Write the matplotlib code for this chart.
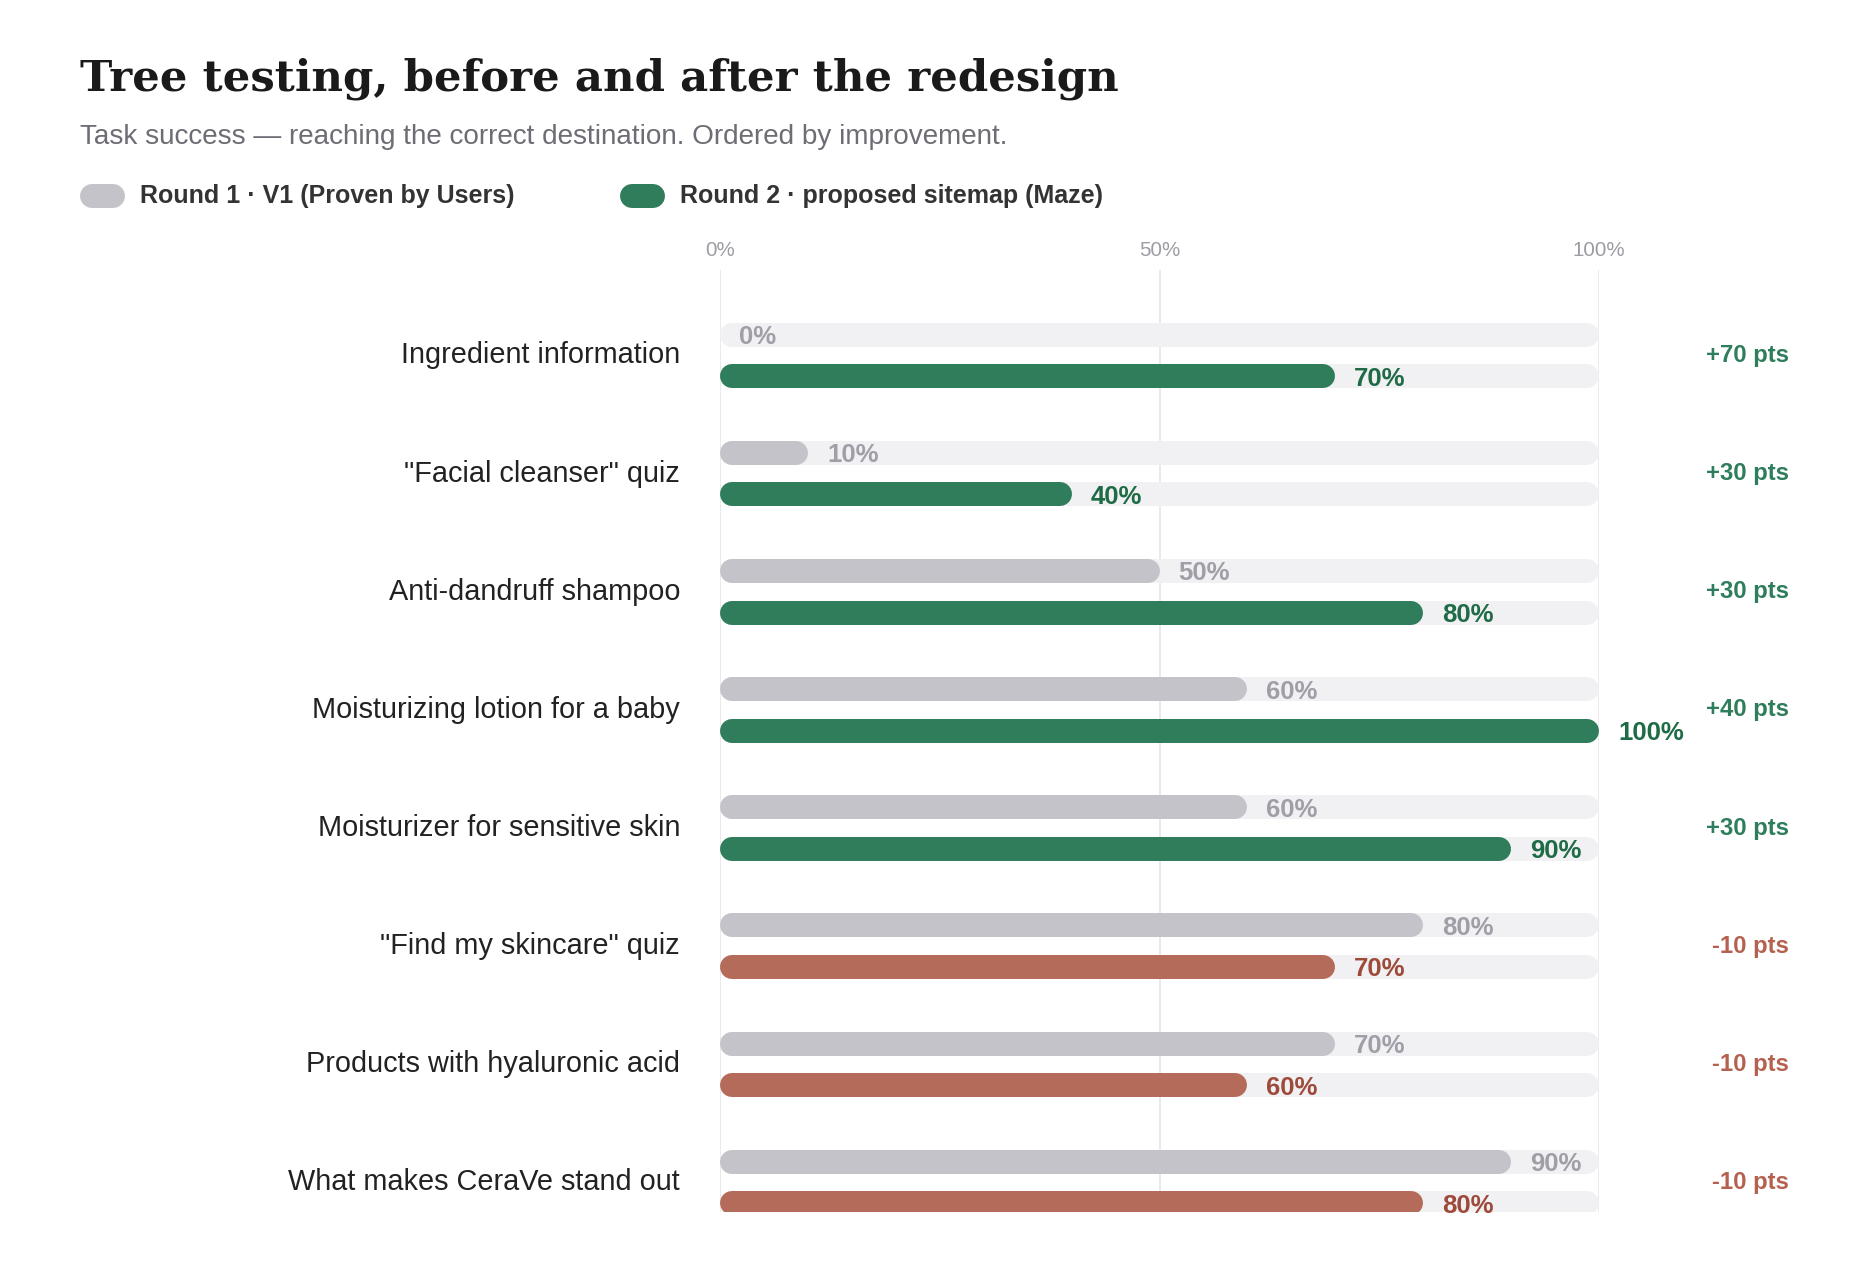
import matplotlib
matplotlib.use("Agg")
import matplotlib.pyplot as plt
from matplotlib.lines import Line2D

plt.rcParams['font.family'] = ['Liberation Sans', 'DejaVu Sans']

# data
categories = ["Ingredient information", '"Facial cleanser" quiz', "Anti-dandruff shampoo",
              "Moisturizing lotion for a baby", "Moisturizer for sensitive skin",
              '"Find my skincare" quiz', "Products with hyaluronic acid", "What makes CeraVe stand out"]
round1 = [0, 10, 50, 60, 60, 80, 70, 90]
round2 = [70, 40, 80, 100, 90, 70, 60, 80]
ticks = [0, 50, 100]
tick_labels = ["0%", "50%", "100%"]

# colours
grey_bar = "#c4c3c9"
grey_txt = "#a09fa8"
track = "#f1f1f3"
green_bar = "#2f7d5b"
green_txt = "#1f6b45"
red_bar = "#b56b59"
red_txt = "#9e4a3b"

W, H = 1860, 1276
fig = plt.figure(figsize=(W / 100, H / 100), dpi=100)
fig.patch.set_facecolor("white")

ax_l, ax_r, ax_t, ax_b = 720, 1599, 270, 1212
ax = fig.add_axes([ax_l / W, 1 - ax_b / H, (ax_r - ax_l) / W, (ax_b - ax_t) / H])
ax.set_xlim(0, 100)
ax.set_ylim(7.25, -0.723)
for s in ax.spines.values():
    s.set_visible(False)
ax.set_yticks([])
ax.xaxis.tick_top()
ax.set_xticks(ticks)
ax.set_xticklabels(tick_labels)
ax.tick_params(axis="x", length=0, pad=7, labelsize=14.8, labelcolor="#9d9ca4")
for t in ticks:
    ax.axvline(t, color="#e6e6ea", lw=1.2, zorder=0)

bar_px = 24
lw = bar_px * 0.72
r = (bar_px / 2) * 100 / (ax_r - ax_l)   # cap radius in data units
off = 0.176
lab_dx = 19 * 100 / (ax_r - ax_l)


def pill(y, x0, x1, color, z):
    ax.plot([x0 + r, x1 - r], [y, y], color=color, lw=lw, solid_capstyle="round", zorder=z)


for i, cat in enumerate(categories):
    y1 = i - off
    y2 = i + off
    better = round2[i] >= round1[i]
    c2 = green_bar if better else red_bar
    t2 = green_txt if better else red_txt
    pill(y1, 0, 100, track, 1)
    pill(y2, 0, 100, track, 1)
    if round1[i] > 0:
        pill(y1, 0, round1[i], grey_bar, 2)
    pill(y2, 0, round2[i], c2, 2)
    ax.text(round1[i] + lab_dx, y1, f"{round1[i]}%", va="center_baseline", ha="left",
            fontsize=18.5, fontweight="bold", color=grey_txt, zorder=3)
    ax.text(round2[i] + lab_dx, y2, f"{round2[i]}%", va="center_baseline", ha="left",
            fontsize=18.5, fontweight="bold", color=t2, zorder=3, clip_on=False)
    ax.text(-4.55, i, cat, va="center", ha="right", fontsize=20.8, color="#222222", clip_on=False)
    d = round2[i] - round1[i]
    ax.text(121.6, i, f"{d:+d} pts", va="center", ha="right", fontsize=17.2,
            fontweight="bold", color=("#2e7d5b" if d >= 0 else "#b5614f"), clip_on=False)

# title, subtitle
fig.text(80 / W, 1 - 91 / H, "Tree testing, before and after the redesign", fontsize=31.2,
         fontweight="bold", family="DejaVu Serif", color="#1a1a1a", va="baseline")
fig.text(80 / W, 1 - 144 / H, "Task success \u2014 reaching the correct destination. Ordered by improvement.",
         fontsize=20.1, color="#6e6d76", va="baseline")

# legend
ly = 1 - 196 / H
for x0, x1, col, tx, label in [(80, 125, grey_bar, 140, "Round 1 \u00b7 V1 (Proven by Users)"),
                               (620, 665, green_bar, 680, "Round 2 \u00b7 proposed sitemap (Maze)")]:
    fig.add_artist(Line2D([(x0 + 12) / W, (x1 - 12) / W], [ly, ly], transform=fig.transFigure,
                          color=col, lw=lw, solid_capstyle="round"))
    fig.text(tx / W, ly, label, fontsize=18, fontweight="bold", color="#333333", va="center")

fig.savefig("out.png", dpi=100)
